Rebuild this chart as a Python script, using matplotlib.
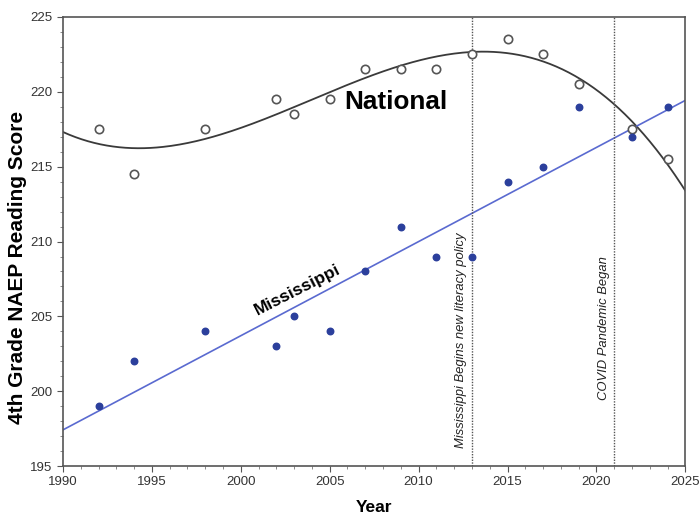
import numpy as np
import matplotlib
matplotlib.use("Agg")
import matplotlib.pyplot as plt
from matplotlib.ticker import MultipleLocator

plt.rcParams['font.family'] = ['Liberation Sans', 'DejaVu Sans']

# NAEP 4th grade reading scores
years = [1992, 1994, 1998, 2002, 2003, 2005, 2007, 2009, 2011, 2013, 2015, 2017, 2019, 2022, 2024]
national = [217.5, 214.5, 217.5, 219.5, 218.5, 219.5, 221.5, 221.5, 221.5, 222.5, 223.5, 222.5, 220.5, 217.5, 215.5]
mississippi = [199, 202, 204, 203, 205, 204, 208, 211, 209, 209, 214, 215, 219, 217, 219]

events = [2013, 2021]
event_labels = ["Mississippi Begins new literacy policy", "COVID Pandemic Began"]
event_label_y = [196.2, 199.4]

# fits
xs = np.linspace(1990, 2025, 300)
nat_fit = np.polyval(np.polyfit(years, national, 3), xs)
ms_fit = np.polyval(np.polyfit(years, mississippi, 1), xs)

fig = plt.figure(figsize=(7, 5.15), dpi=100)
ax = fig.add_axes([0.09, 0.095, 0.889, 0.872])

ax.plot(xs, nat_fit, color="#3a3a3a", lw=1.3)
ax.plot(xs, ms_fit, color="#5a6ad0", lw=1.2)
ax.scatter(years, national, s=36, facecolors="white", edgecolors="#555555", linewidths=1.2, zorder=3)
ax.scatter(years, mississippi, s=22, color="#2b3f9c", zorder=3)

for x, lab, ly in zip(events, event_labels, event_label_y):
    ax.axvline(x, color="#555555", lw=1, ls=(0, (1, 1)))
    ax.text(x - 0.25, ly, lab, rotation=90, ha="right", va="bottom",
            fontsize=9.4, style="italic", color="#222222")

ax.text(2008.7, 219.3, "National", fontsize=18.8, fontweight="bold", ha="center", va="center")
ax.text(2003.2, 206.8, "Mississippi", fontsize=12.5, fontweight="bold", ha="center", va="center",
        rotation=27)

ax.set_xlim(1990, 2025)
ax.set_ylim(195, 225)
ax.xaxis.set_major_locator(MultipleLocator(5))
ax.xaxis.set_minor_locator(MultipleLocator(1))
ax.yaxis.set_major_locator(MultipleLocator(5))
ax.yaxis.set_minor_locator(MultipleLocator(1))
ax.tick_params(which="major", length=4, color="#555555", labelsize=9.5, labelcolor="#333333")
ax.tick_params(which="minor", length=2, color="#777777")
for s in ax.spines.values():
    s.set_color("#555555")
    s.set_linewidth(1.2)

ax.set_xlabel("Year", fontsize=12.5, fontweight="bold", labelpad=8)
ax.set_ylabel("4th Grade NAEP Reading Score", fontsize=15, fontweight="bold")
ax.yaxis.set_label_coords(-0.058, 0.443)

fig.savefig("out.png", dpi=100)
